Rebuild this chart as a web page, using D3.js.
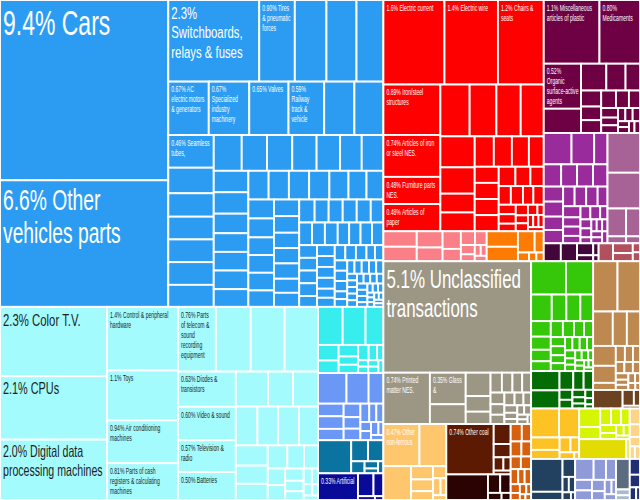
<!DOCTYPE html>
<html>
<head>
<meta charset="utf-8">
<script src="https://cdn.jsdelivr.net/npm/d3@7"></script>
<style>
  body { margin: 0; background: #fff; }
  svg { display: block; }
  text { font-family: "Liberation Sans", Arial, sans-serif; }
</style>
</head>
<body>
<svg id="chart" width="640" height="500"></svg>
<script>
const width = 640, height = 500;

// export shares in percent, one list per product community (largest first)
const transportNames = ["Cars", "Other vehicles parts", "Switchboards, relays & fuses", "Tires & pneumatic forces", "", "", "",
  "AC electric motors & generators", "Specialized industry machinery", "Valves", "Railway track & vehicle", "", "", "Seamless tubes,"];
const transportValues = [9.4, 6.6, 2.3, 0.90, 0.80, 0.76, 0.68, 0.67, 0.67, 0.65, 0.59, 0.50, 0.48,
  0.46, 0.36, 0.33, 0.32, 0.32, 0.32, 0.31, 0.31, 0.28, 0.28, 0.27, 0.26, 0.24, 0.23,
  0.24, 0.23, 0.21, 0.20, 0.20, 0.18, 0.20, 0.19, 0.18, 0.18, 0.18, 0.17, 0.15,
  0.16, 0.15, 0.15, 0.14, 0.14, 0.14, 0.13, 0.13, 0.13, 0.12, 0.12, 0.12, 0.11, 0.11, 0.11,
  0.10, 0.10, 0.10, 0.10, 0.09, 0.09, 0.09, 0.09, 0.08, 0.08, 0.08, 0.08, 0.07, 0.07, 0.07, 0.07,
  0.06, 0.06, 0.06, 0.06, 0.06, 0.05, 0.05, 0.05, 0.05, 0.05, 0.04, 0.04, 0.04, 0.04, 0.04,
  0.03, 0.03, 0.03, 0.03, 0.03, 0.03, 0.03, 0.02, 0.02, 0.02, 0.02, 0.02, 0.02, 0.02, 0.02,
  0.02, 0.02, 0.02, 0.02, 0.015, 0.015, 0.015, 0.015, 0.01, 0.01, 0.01, 0.01, 0.01, 0.01, 0.01];

const electronicsNames = ["Color T.V.", "CPUs", "Digital data processing machines", "Control & peripheral hardware", "Toys",
  "Air conditioning machines", "Parts of cash registers & calculating machines", "Parts of telecom & sound recording equipment",
  "", "", "", "Diodes & transistors", "Video & sound", "Television & radio", "Batteries"];
const electronicsValues = [2.3, 2.1, 2.0, 1.4, 1.1, 0.94, 0.81, 0.76, 0.70, 0.68, 0.67, 0.63, 0.60, 0.57, 0.50,
  0.35, 0.27, 0.27, 0.26, 0.25, 0.25, 0.23, 0.20, 0.18, 0.16, 0.14, 0.12, 0.10, 0.09, 0.08, 0.07, 0.06,
  0.05, 0.04, 0.03, 0.03, 0.02, 0.02];

const turquoiseValues = [0.29, 0.27, 0.21, 0.10, 0.08, 0.07, 0.05, 0.05, 0.05, 0.04, 0.03, 0.02, 0.02, 0.02, 0.02, 0.02];
const periwinkleValues = [0.27, 0.21, 0.14, 0.10, 0.10, 0.09, 0.07, 0.06, 0.06, 0.05, 0.04, 0.04, 0.03, 0.03, 0.03, 0.02, 0.02];
const tealValues = [0.34, 0.11, 0.10, 0.05, 0.03, 0.02, 0.02];
const navyNames = ["Artificial"];
const navyValues = [0.33, 0.11, 0.07, 0.02, 0.01];

const metalsNames = ["Electric current", "Electric wire", "Chairs & seats", "Iron/steel structures",
  "Articles of iron or steel NES.", "Furniture parts NES.", "Articles of paper"];
const metalsValues = [1.6, 1.4, 1.2, 0.89, 0.74, 0.48, 0.48, 0.47, 0.43, 0.39, 0.37, 0.33, 0.28, 0.20, 0.20,
  0.18, 0.17, 0.16, 0.14, 0.12, 0.12, 0.12, 0.12, 0.10, 0.09, 0.08, 0.07, 0.07, 0.06, 0.06, 0.05, 0.05,
  0.04, 0.04, 0.03, 0.03, 0.03, 0.02, 0.02, 0.02, 0.02, 0.02];
const pinkValues = [0.16, 0.15, 0.13, 0.11, 0.10, 0.07, 0.06, 0.05, 0.04, 0.03, 0.02, 0.02, 0.02];
const orangeValues = [0.15, 0.14, 0.11, 0.06, 0.03, 0.02, 0.02];

const chemicalsNames = ["Miscellaneous articles of plastic", "Medicaments", "Organic surface-active agents"];
const chemicalsValues = [1.1, 0.80, 0.52, 0.28, 0.21, 0.16, 0.12, 0.10, 0.085, 0.08, 0.08, 0.07, 0.06, 0.05,
  0.04, 0.04, 0.03, 0.03, 0.03, 0.02, 0.02, 0.02, 0.02];
const magentaValues = [0.27, 0.22, 0.13, 0.12, 0.11, 0.11, 0.10, 0.09, 0.09, 0.08, 0.08, 0.07, 0.07, 0.07,
  0.06, 0.06, 0.05, 0.05, 0.04, 0.04, 0.04, 0.03, 0.03, 0.03, 0.02, 0.02, 0.02, 0.02, 0.02, 0.02, 0.02];
const mauveValues = [0.40, 0.36, 0.16, 0.12, 0.04, 0.03];
const darkPlumValues = [0.095, 0.09, 0.06, 0.03, 0.02, 0.01];
const roseValues = [0.08, 0.06, 0.05, 0.02, 0.02];

const unclassifiedNames = ["Unclassified transactions", "Printed matter NES.", "Glass &"];
const unclassifiedValues = [5.1, 0.74, 0.35, 0.22, 0.18, 0.12, 0.095, 0.07, 0.065, 0.06, 0.055, 0.05, 0.045,
  0.04, 0.04, 0.035, 0.03, 0.03, 0.025, 0.02, 0.02, 0.02, 0.015, 0.015, 0.01];
const nonFerrousNames = ["Other non-ferrous"];
const nonFerrousValues = [0.47, 0.35, 0.29, 0.09, 0.08, 0.06, 0.05, 0.04, 0.03, 0.02];
const coalNames = ["Other coal"];
const coalValues = [0.74, 0.105, 0.07, 0.04, 0.03, 0.02];
const darkCoalValues = [0.33, 0.07, 0.06, 0.03, 0.02];
const rustValues = [0.06, 0.05, 0.05, 0.045, 0.04, 0.04, 0.035, 0.03, 0.03, 0.025, 0.02, 0.02, 0.015, 0.01, 0.01];

const greenValues = [0.36, 0.28, 0.17, 0.12, 0.115, 0.105, 0.095, 0.08, 0.07, 0.06, 0.06, 0.055, 0.05, 0.045,
  0.04, 0.04, 0.035, 0.035, 0.03, 0.03, 0.03, 0.025, 0.025, 0.02, 0.02, 0.02, 0.02, 0.015, 0.015, 0.015,
  0.01, 0.01, 0.01];
const darkGreenValues = [0.17, 0.16, 0.08, 0.06, 0.055, 0.04, 0.035, 0.03, 0.025, 0.02, 0.02, 0.015, 0.01];
const tanValues = [0.38, 0.35, 0.21, 0.15, 0.14, 0.14, 0.12, 0.05, 0.045, 0.04, 0.035, 0.03, 0.03, 0.025,
  0.025, 0.02, 0.02, 0.02, 0.015, 0.015, 0.01];
const brownValues = [0.17, 0.055, 0.03, 0.015];
const amberValues = [0.25, 0.18, 0.11, 0.08, 0.05, 0.04, 0.03, 0.01];
const limeValues = [0.12, 0.08, 0.055, 0.05, 0.045, 0.04, 0.03, 0.025, 0.02, 0.015];
const mustardValues = [0.29, 0.02];
const paleValues = [0.05, 0.04, 0.03, 0.02, 0.02];
const slateValues = [0.32, 0.08, 0.07, 0.03, 0.03, 0.02, 0.01];
const lavenderValues = [0.12, 0.08, 0.065, 0.055, 0.05, 0.045, 0.035, 0.03, 0.02, 0.02];
const steelValues = [0.13];
const lightSteelValues = [0.025, 0.02];
const inkValues = [0.05, 0.04, 0.025, 0.015];

const colors = {
  transport: "#2c9cf2", electronics: "#a3fbfd", turquoise: "#38eded", periwinkle: "#6b97f7",
  teal: "#0a73a0", navy: "#0a0a99", metals: "#fe0000", pink: "#fb7f86", orange: "#fd7b02",
  chemicals: "#6e0044", magenta: "#9a2b9c", mauve: "#a86396", darkPlum: "#42073a", rose: "#b2505e",
  unclassified: "#9c9685", nonFerrous: "#fec76d", coal: "#5c1a02", darkCoal: "#2b0303", rust: "#d6600d",
  green: "#35c80a", darkGreen: "#036c04", tan: "#be8950", brown: "#6b4321", amber: "#fdc324",
  lime: "#d6f502", mustard: "#e2dc02", pale: "#fdd48a", slate: "#22405f", lavender: "#8f9ad8",
  steel: "#5d6b80", lightSteel: "#a9bccc", ink: "#202f72"
};

function group(key, values, names = []) {
  return { name: key, color: colors[key], children: values.map((v, i) => ({ name: names[i] || "", value: v })) };
}
const nest = (...children) => ({ children });

const tree = nest(
  nest(
    group("transport", transportValues, transportNames),
    nest(
      group("electronics", electronicsValues, electronicsNames),
      nest(group("turquoise", turquoiseValues), group("periwinkle", periwinkleValues),
        group("teal", tealValues), group("navy", navyValues, navyNames))
    )
  ),
  nest(
    nest(
      nest(group("metals", metalsValues, metalsNames), nest(group("pink", pinkValues), group("orange", orangeValues))),
      nest(group("chemicals", chemicalsValues, chemicalsNames),
        nest(group("magenta", magentaValues), group("mauve", mauveValues)),
        nest(group("darkPlum", darkPlumValues), group("rose", roseValues)))
    ),
    nest(
      nest(group("unclassified", unclassifiedValues, unclassifiedNames),
        nest(group("nonFerrous", nonFerrousValues, nonFerrousNames),
          nest(group("coal", coalValues, coalNames), group("darkCoal", darkCoalValues)),
          group("rust", rustValues))),
      nest(
        nest(nest(group("green", greenValues), group("darkGreen", darkGreenValues)),
          nest(group("tan", tanValues), group("brown", brownValues))),
        nest(group("amber", amberValues), nest(group("lime", limeValues), group("mustard", mustardValues)),
          group("pale", paleValues)),
        nest(group("slate", slateValues), group("lavender", lavenderValues),
          nest(group("steel", steelValues), group("lightSteel", lightSteelValues)), group("ink", inkValues))
      )
    )
  )
);

// communities are squarified, the groupings around them alternate between columns and rows
function tile(node, x0, y0, x1, y1) {
  if (node.height === 1) d3.treemapSquarify(node, x0, y0, x1, y1);
  else (node.depth % 2 ? d3.treemapSlice : d3.treemapDice)(node, x0, y0, x1, y1);
}

const root = d3.hierarchy(tree)
  .sum(d => d.children ? 0 : d.value)
  .sort((a, b) => a.height === 0 ? b.value - a.value : 0);
d3.treemap().size([width, height]).tile(tile)(root);

const svg = d3.select("#chart");
const leaves = root.leaves();

svg.append("g").selectAll("rect").data(leaves).join("rect")
  .attr("x", d => d.x0).attr("y", d => d.y0)
  .attr("width", d => d.x1 - d.x0).attr("height", d => d.y1 - d.y0)
  .attr("fill", d => d.parent.data.color)
  .attr("stroke", "#fff").attr("stroke-width", 1.9);

// labels: narrow (horizontally squeezed) text, big cells get a fitted size, small cells a fixed one
const fmt = d3.format(".2r");
const pad = 3;
const probe = svg.append("text").attr("visibility", "hidden");
const textW = (s, fs, sx) => probe.attr("font-size", fs).text(s).node().getComputedTextLength() * sx;

function wrapWords(words, fs, sx, maxW) {
  const lines = [];
  let line = "";
  words.forEach(w => {
    const test = line ? line + " " + w : w;
    if (!line || textW(test, fs, sx) <= maxW) line = test;
    else { lines.push(line); line = w; }
  });
  if (line) lines.push(line);
  return lines;
}

const labels = svg.append("g");
leaves.filter(d => d.data.name).forEach(d => {
  const w = d.x1 - d.x0, h = d.y1 - d.y0, maxW = w - 2 * pad;
  const words = (fmt(d.value) + "% " + d.data.name).split(" ");
  let fs = 0.2 * Math.sqrt(w * h), sx, lines, lh;
  if (fs >= 15) {
    sx = 0.66;
    for (; fs > 9; fs -= 0.5) {
      lines = wrapWords(words, fs, sx, maxW);
      if (lines.every(l => textW(l, fs, sx) <= maxW) && lines.length * fs * 1.15 <= h - 2 * pad) break;
    }
    lh = fs * 1.15;
  } else {
    fs = 8.5; lh = 10; sx = 0.6;
    lines = wrapWords(words, fs, sx, maxW);
    lines = lines.slice(0, Math.max(1, Math.floor((h - pad) / lh)));
  }
  const fill = d3.lab(d.parent.data.color).l > 90 ? "#1e1e1e" : "#fff";
  const t = labels.append("text")
    .attr("transform", `translate(${d.x0 + pad},${d.y0 + pad}) scale(${sx},1)`)
    .attr("font-size", fs).attr("fill", fill);
  lines.forEach((l, i) => t.append("tspan").attr("x", 0).attr("y", fs * 0.91 + i * lh).text(l));
});
probe.remove();
</script>
</body>
</html>
